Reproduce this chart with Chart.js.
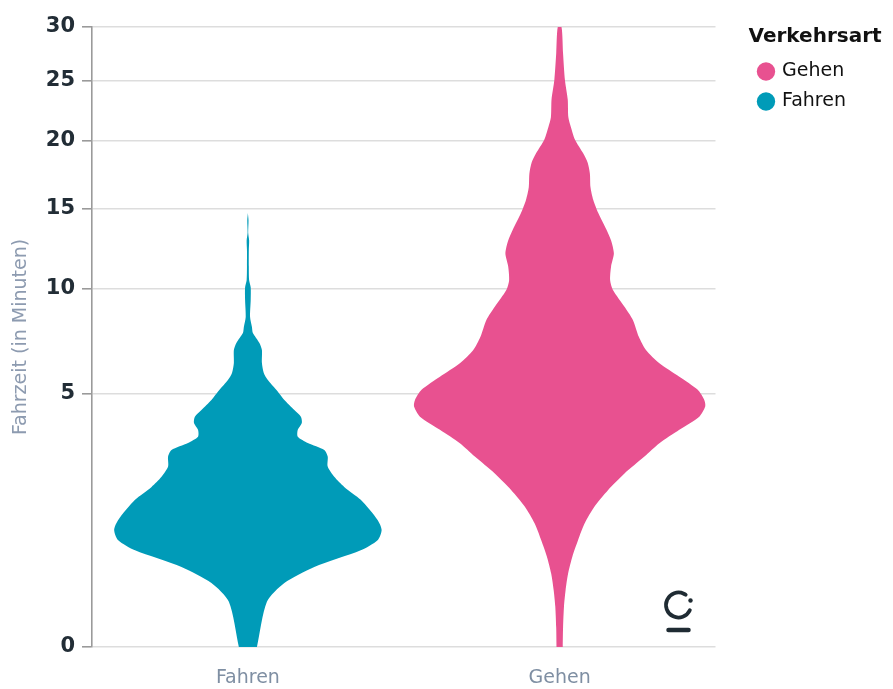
<!DOCTYPE html>
<html>
<head>
<meta charset="utf-8">
<script src="https://cdn.jsdelivr.net/npm/chart.js@4.4.1/dist/chart.umd.min.js"></script>
<style>
  html, body { margin: 0; padding: 0; background: #fff; }
  #wrap { width: 893px; height: 689px; position: relative; }
</style>
</head>
<body>
<div id="wrap"><canvas id="violinChart"></canvas></div>
<script>
// categories on the x axis, legend order as in the original
const categories = ['Fahren', 'Gehen'];
const legendOrder = ['Gehen', 'Fahren'];

// violin outlines: minutes (y) and half width of the density (share of one category band)
const fahrenMinutes = [0, 0.16, 0.32, 0.5, 0.73, 0.89, 1.07, 1.26, 1.69, 2.0, 2.26, 2.54, 2.83, 3.03, 3.25, 3.45, 3.68, 3.92, 4.14, 4.38, 4.76, 5.16, 5.56, 5.86, 6.3, 6.88, 7.21, 7.69, 7.99, 8.5, 9.4, 10.1, 10.5, 11.3, 12.3, 12.9, 13.4, 14.2, 14.7];
const fahrenDensity = [0.029, 0.061, 0.117, 0.213, 0.362, 0.416, 0.429, 0.416, 0.362, 0.309, 0.277, 0.256, 0.256, 0.245, 0.192, 0.16, 0.16, 0.173, 0.17, 0.149, 0.117, 0.091, 0.064, 0.051, 0.045, 0.045, 0.037, 0.016, 0.013, 0.007, 0.009, 0.009, 0.004, 0.003, 0.003, 0.004, 0.001, 0.002, 0];

const gehenMinutes = [0, 0.03, 0.13, 0.25, 0.42, 0.64, 0.89, 1.19, 1.54, 1.92, 2.35, 2.83, 3.24, 3.68, 4.14, 4.51, 4.76, 5.16, 5.7, 6.28, 6.88, 7.51, 8.35, 9.04, 9.95, 10.5, 11.3, 12.1, 12.9, 13.6, 14.7, 15.6, 16.5, 17.5, 18.3, 19.0, 20.1, 21.1, 21.9, 23.4, 25.1, 27.5, 30];
const gehenDensity = [0.01, 0.011, 0.014, 0.019, 0.027, 0.041, 0.059, 0.08, 0.112, 0.155, 0.208, 0.272, 0.32, 0.384, 0.448, 0.467, 0.464, 0.443, 0.384, 0.32, 0.277, 0.254, 0.235, 0.208, 0.171, 0.162, 0.165, 0.174, 0.165, 0.15, 0.124, 0.108, 0.099, 0.097, 0.09, 0.076, 0.049, 0.036, 0.028, 0.026, 0.017, 0.011, 0.006];

const yTicks = [0, 5, 10, 15, 20, 25, 30];

const colors = { Fahren: '#009bb8', Gehen: '#e85190' };
const FONT = '"DejaVu Sans", sans-serif';

// square-root y scale (not built into Chart.js)
class SqrtScale extends Chart.LinearScale {
  getPixelForValue(value) {
    if (value === null || value === undefined || isNaN(value)) return NaN;
    const lo = Math.sqrt(Math.max(this.min, 0));
    const hi = Math.sqrt(this.max);
    return this.getPixelForDecimal((Math.sqrt(Math.max(value, 0)) - lo) / (hi - lo));
  }
  getValueForPixel(pixel) {
    const lo = Math.sqrt(Math.max(this.min, 0));
    const hi = Math.sqrt(this.max);
    const s = lo + this.getDecimalForPixel(pixel) * (hi - lo);
    return s * s;
  }
}
SqrtScale.id = 'sqrt';
SqrtScale.defaults = {};
Chart.register(SqrtScale);

// closed outline: up the right side, back down the left side
function violinOutline(name, minutes, density) {
  const center = categories.indexOf(name) + 0.5;
  const right = minutes.map((m, i) => ({ x: center + density[i], y: m }));
  const left = minutes.map((m, i) => ({ x: center - density[i], y: m })).reverse();
  return right.concat(left);
}

// small brand mark, bottom right of the plot
const logoPlugin = {
  id: 'logo',
  afterDatasetsDraw(chart) {
    const { ctx, chartArea } = chart;
    const cx = chartArea.right - 37, cy = chartArea.bottom - 42;
    ctx.save();
    ctx.strokeStyle = '#1f2b33';
    ctx.fillStyle = '#1f2b33';
    ctx.lineWidth = 3.8;
    ctx.lineCap = 'round';
    ctx.beginPath();
    ctx.arc(cx, cy, 12.5, 25 * Math.PI / 180, 305 * Math.PI / 180);
    ctx.stroke();
    ctx.beginPath();
    ctx.arc(cx + 12, cy - 4.5, 2.2, 0, Math.PI * 2);
    ctx.fill();
    ctx.lineWidth = 4.5;
    ctx.beginPath();
    ctx.moveTo(cx - 10, cy + 25);
    ctx.lineTo(cx + 10, cy + 25);
    ctx.stroke();
    ctx.restore();
  }
};

// push the legend a little away from the plot, let it use the space up to the edge
const legendShift = {
  id: 'legendShift',
  afterLayout(chart) {
    const lg = chart.legend;
    if (lg) {
      lg.left += 33;
      lg.right = chart.width;
      lg.width = lg.right - lg.left;
    }
  }
};

const ctx = document.getElementById('violinChart').getContext('2d');
new Chart(ctx, {
  type: 'scatter',
  data: {
    datasets: [
      {
        label: 'Fahren',
        data: violinOutline('Fahren', fahrenMinutes, fahrenDensity),
        showLine: true,
        fill: 'shape',
        backgroundColor: colors.Fahren,
        borderColor: colors.Fahren,
        borderWidth: 0,
        tension: 0.25,
        pointRadius: 0,
        pointHoverRadius: 0
      },
      {
        label: 'Gehen',
        data: violinOutline('Gehen', gehenMinutes, gehenDensity),
        showLine: true,
        fill: 'shape',
        backgroundColor: colors.Gehen,
        borderColor: colors.Gehen,
        borderWidth: 0,
        tension: 0.25,
        pointRadius: 0,
        pointHoverRadius: 0
      }
    ]
  },
  options: {
    responsive: true,
    maintainAspectRatio: false,
    animation: false,
    layout: { padding: { top: 27, left: 10, right: 70, bottom: 0 } },
    scales: {
      x: {
        type: 'linear',
        min: 0,
        max: categories.length,
        afterBuildTicks: (axis) => {
          axis.ticks = categories.map((c, i) => ({ value: i + 0.5 }));
        },
        afterFit: (axis) => { axis.height = 42; },
        grid: { display: false, drawTicks: false },
        border: { display: false },
        ticks: {
          callback: (v) => categories[Math.floor(v)],
          color: '#7f8fa3',
          font: { family: FONT, size: 19 },
          padding: 20
        }
      },
      y: {
        type: 'sqrt',
        min: 0,
        max: 30,
        afterBuildTicks: (axis) => {
          axis.ticks = yTicks.map(v => ({ value: v }));
        },
        grid: {
          color: '#dddddd',
          lineWidth: 1.6,
          tickColor: '#9a9a9a',
          tickLength: 10,
          tickWidth: 1.6
        },
        border: { display: true, color: '#9a9a9a', width: 1.6 },
        ticks: {
          color: '#222d36',
          font: { family: FONT, size: 21, weight: 'bold' },
          padding: 7
        },
        title: {
          display: true,
          text: 'Fahrzeit (in Minuten)',
          color: '#8d9bb0',
          font: { family: FONT, size: 19 },
          padding: { top: 0, bottom: 6 }
        }
      }
    },
    plugins: {
      tooltip: { enabled: false },
      legend: {
        position: 'right',
        align: 'start',
        title: {
          display: true,
          text: 'Verkehrsart',
          position: 'start',
          color: '#111111',
          font: { family: FONT, size: 20, weight: 'bold' },
          padding: { top: 0, bottom: 0 }
        },
        labels: {
          usePointStyle: true,
          pointStyle: 'circle',
          boxWidth: 13,
          boxHeight: 13,
          padding: 11,
          color: '#222222',
          font: { family: FONT, size: 19 },
          generateLabels: () => legendOrder.map(name => ({
            text: name,
            fillStyle: colors[name],
            strokeStyle: colors[name],
            lineWidth: 0,
            pointStyle: 'circle',
            hidden: false,
            datasetIndex: categories.indexOf(name)
          }))
        }
      }
    }
  },
  plugins: [logoPlugin, legendShift]
});
</script>
</body>
</html>
